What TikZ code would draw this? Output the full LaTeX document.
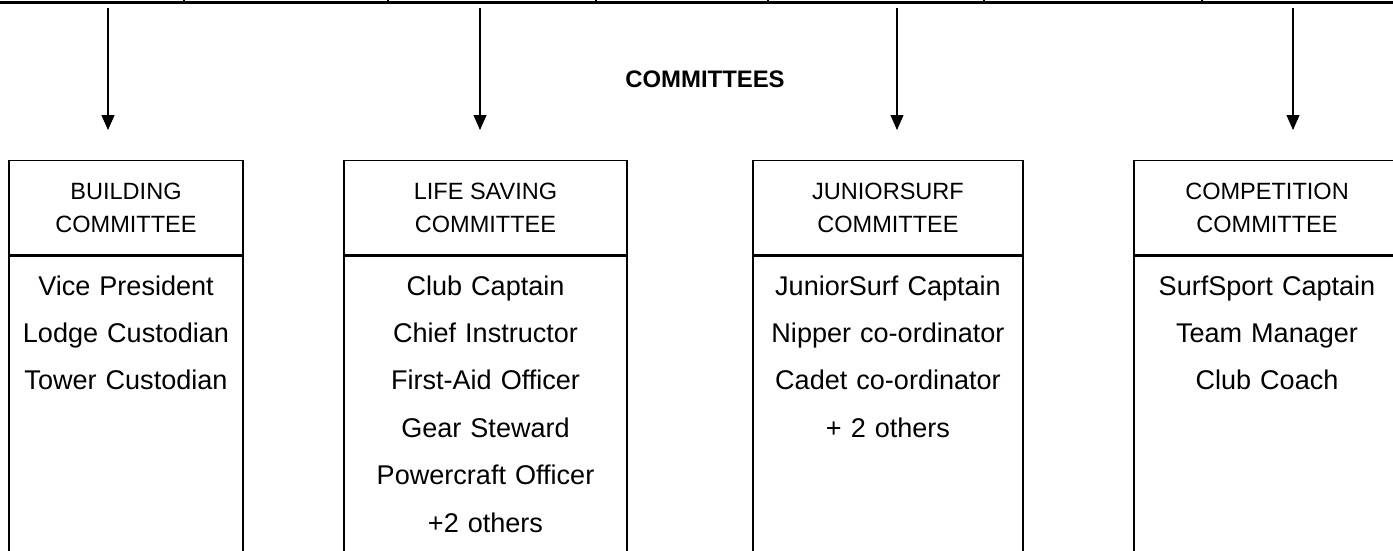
\documentclass[tikz,border=0pt]{standalone}
\usepackage{fontspec}
\setmainfont{Liberation Sans}
\usetikzlibrary{arrows.meta,positioning}
\tikzset{>={Triangle[length=0.3cm,width=0.26cm]}}
\tikzset{
  head/.style={draw, line width=0.75pt, anchor=north, minimum height=1.88cm, inner sep=0pt, align=center, font=\fontsize{13.4}{18.8}\selectfont},
  body/.style={draw, line width=0.75pt, anchor=north, minimum height=7cm, inner sep=0pt},
  duties/.style={anchor=base, inner sep=0pt, align=center, font=\fontsize{15.4}{27}\selectfont}
}
\begin{document}
\begin{tikzpicture}[x=0.02cm, y=-0.02cm]
\clip (0,0) rectangle (1393,551);
\draw[line width=1.9pt] (0,2.5) -- (1393,2.5);
\foreach \x in {184,388,596,768,984,1202}
  \draw[line width=0.6pt] (\x,0) -- (\x,2);
\node[font=\bfseries\fontsize{13.6}{16}\selectfont] (title) at (705,79) {COMMITTEES};
\foreach \x/\n in {108/1, 480/2, 897/3, 1293/4} {
  \coordinate (top\n) at (\x,8);
  \coordinate (tip\n) at (\x,130);
  \draw[->, line width=0.6pt] (top\n) -- (tip\n);
}
\node[head, minimum width=4.68cm] (bld) at (126,160) {BUILDING\\COMMITTEE};
\node[body, minimum width=4.68cm] (bld-body) at (bld.south) {};
\node[duties, text width=4.68cm] (bld-list) at (126,295) {Vice President\\Lodge Custodian\\Tower Custodian};
\node[head, minimum width=5.66cm] (lsv) at (485.5,160) {LIFE SAVING\\COMMITTEE};
\node[body, minimum width=5.66cm] (lsv-body) at (lsv.south) {};
\node[duties, text width=5.66cm] (lsv-list) at (485.5,295) {Club Captain\\Chief Instructor\\First-Aid Officer\\Gear Steward\\Powercraft Officer\\+2 others};
\node[head, minimum width=5.4cm] (jsf) at (888,160) {JUNIORSURF\\COMMITTEE};
\node[body, minimum width=5.4cm] (jsf-body) at (jsf.south) {};
\node[duties, text width=5.4cm] (jsf-list) at (888,295) {JuniorSurf Captain\\Nipper co-ordinator\\Cadet co-ordinator\\+ 2 others};
\node[head, minimum width=5.32cm] (cmp) at (1267,160) {COMPETITION\\COMMITTEE};
\node[body, minimum width=5.32cm] (cmp-body) at (cmp.south) {};
\node[duties, text width=5.32cm] (cmp-list) at (1267,295) {SurfSport Captain\\Team Manager\\Club Coach};
\end{tikzpicture}
\end{document}
